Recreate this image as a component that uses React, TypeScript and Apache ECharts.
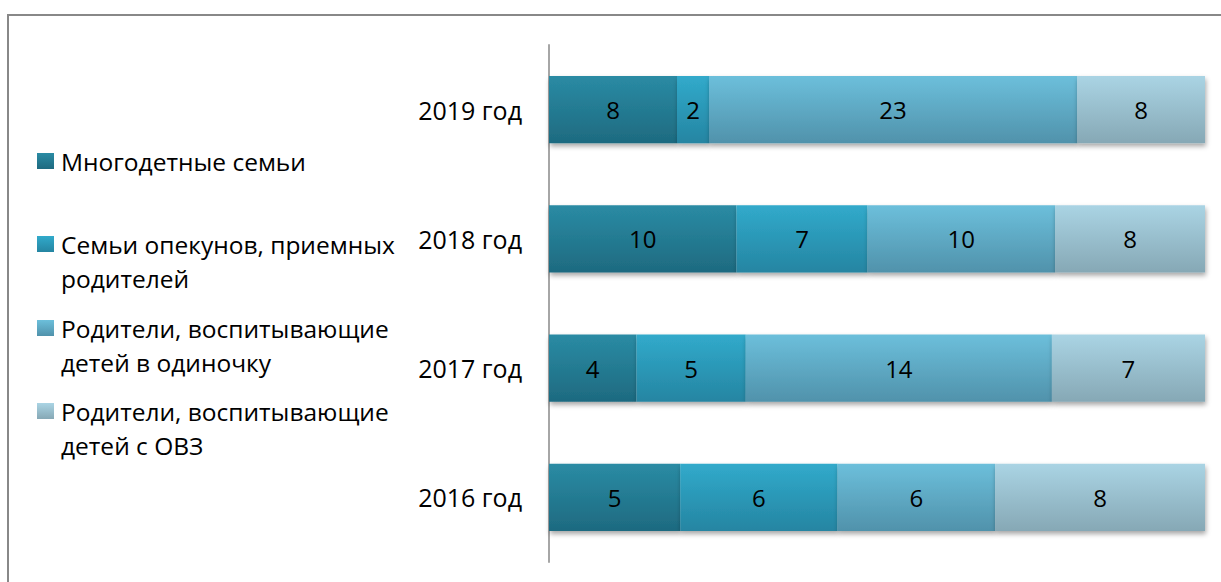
import React, { useEffect, useRef } from "react";
import * as echarts from "echarts";

const categories = ["2016 год", "2017 год", "2018 год", "2019 год"];
const seriesNames = [
  "Многодетные семьи",
  "Семьи опекунов, приемных\nродителей",
  "Родители, воспитывающие\nдетей в одиночку",
  "Родители, воспитывающие\nдетей с ОВЗ",
];
const large = [5, 4, 10, 8];
const guardians = [6, 5, 7, 2];
const single = [6, 14, 10, 23];
const disabled = [8, 7, 8, 8];
const allValues = [large, guardians, single, disabled];

const topColors = ["#2a8ba4", "#31aacb", "#6cbfdb", "#aad4e4"];
const bottomColors = ["#1e6a80", "#2585a2", "#5092ab", "#86a8b5"];
const legendCenters = [161, 244, 328, 411];

export default function App() {
  const ref = useRef<HTMLDivElement>(null);
  useEffect(() => {
    document.body.style.margin = "0";
    document.body.style.overflow = "hidden";
    if (!ref.current) return;
    const chart = echarts.init(ref.current, null, { renderer: "svg" });
    const totals = categories.map((_, i) =>
      allValues.reduce((s, arr) => s + arr[i], 0)
    );
    const font = "'Open Sans', sans-serif";
    const lh = 34;
    const series = allValues.map((arr, k) => ({
      name: seriesNames[k],
      type: "bar",
      stack: "total",
      barCategoryGap: "48%",
      data: arr.map((v, i) => ({ value: (v / totals[i]) * 100, raw: v })),
      itemStyle: {
        color: new echarts.graphic.LinearGradient(0, 0, 0, 1, [
          { offset: 0, color: topColors[k] },
          { offset: 1, color: bottomColors[k] },
        ]),
        shadowColor: "rgba(0,0,0,0.35)",
        shadowBlur: 5,
        shadowOffsetX: 1,
        shadowOffsetY: 3,
      },
      label: {
        show: true,
        position: "inside",
        color: "#000",
        fontFamily: font,
        fontSize: 24,
        formatter: (p: any) => String(p.data.raw),
      },
      emphasis: { disabled: true },
    }));
    const legends = seriesNames.map((name, k) => {
      const multi = name.includes("\n");
      return {
        data: [name],
        left: 37,
        top: legendCenters[k] - (multi ? lh * 1.5 : lh / 2),
        padding: 0,
        itemWidth: 17,
        itemHeight: 16,
        icon: "rect",
        selectedMode: false,
        formatter: (n: string) => (n.includes("\n") ? "\n" + n : n),
        itemStyle: { shadowBlur: 0, shadowOffsetX: 0, shadowOffsetY: 0, shadowColor: "rgba(0,0,0,0)" },
        textStyle: {
          fontFamily: font,
          fontSize: 24.5,
          color: "#000",
          lineHeight: lh,
          padding: [0, 0, 0, 2],
        },
      };
    });
    chart.setOption({
      animation: false,
      grid: { left: 549, right: 16, top: 45, bottom: 20 },
      legend: legends,
      xAxis: {
        type: "value",
        min: 0,
        max: 100,
        show: false,
      },
      yAxis: {
        type: "category",
        data: categories,
        axisLine: { show: true, lineStyle: { color: "#a6a6a6", width: 2 } },
        axisTick: { show: false },
        axisLabel: { color: "#000", fontFamily: font, fontSize: 25, margin: 27 },
      },
      graphic: [
        {
          type: "rect",
          shape: { x: 8, y: 15, width: 1400, height: 800 },
          style: { fill: "none", stroke: "#888888", lineWidth: 2 },
          silent: true,
        },
      ],
      series,
    });
    return () => chart.dispose();
  }, []);
  return <div ref={ref} style={{ width: 1221, height: 582 }} />;
}
